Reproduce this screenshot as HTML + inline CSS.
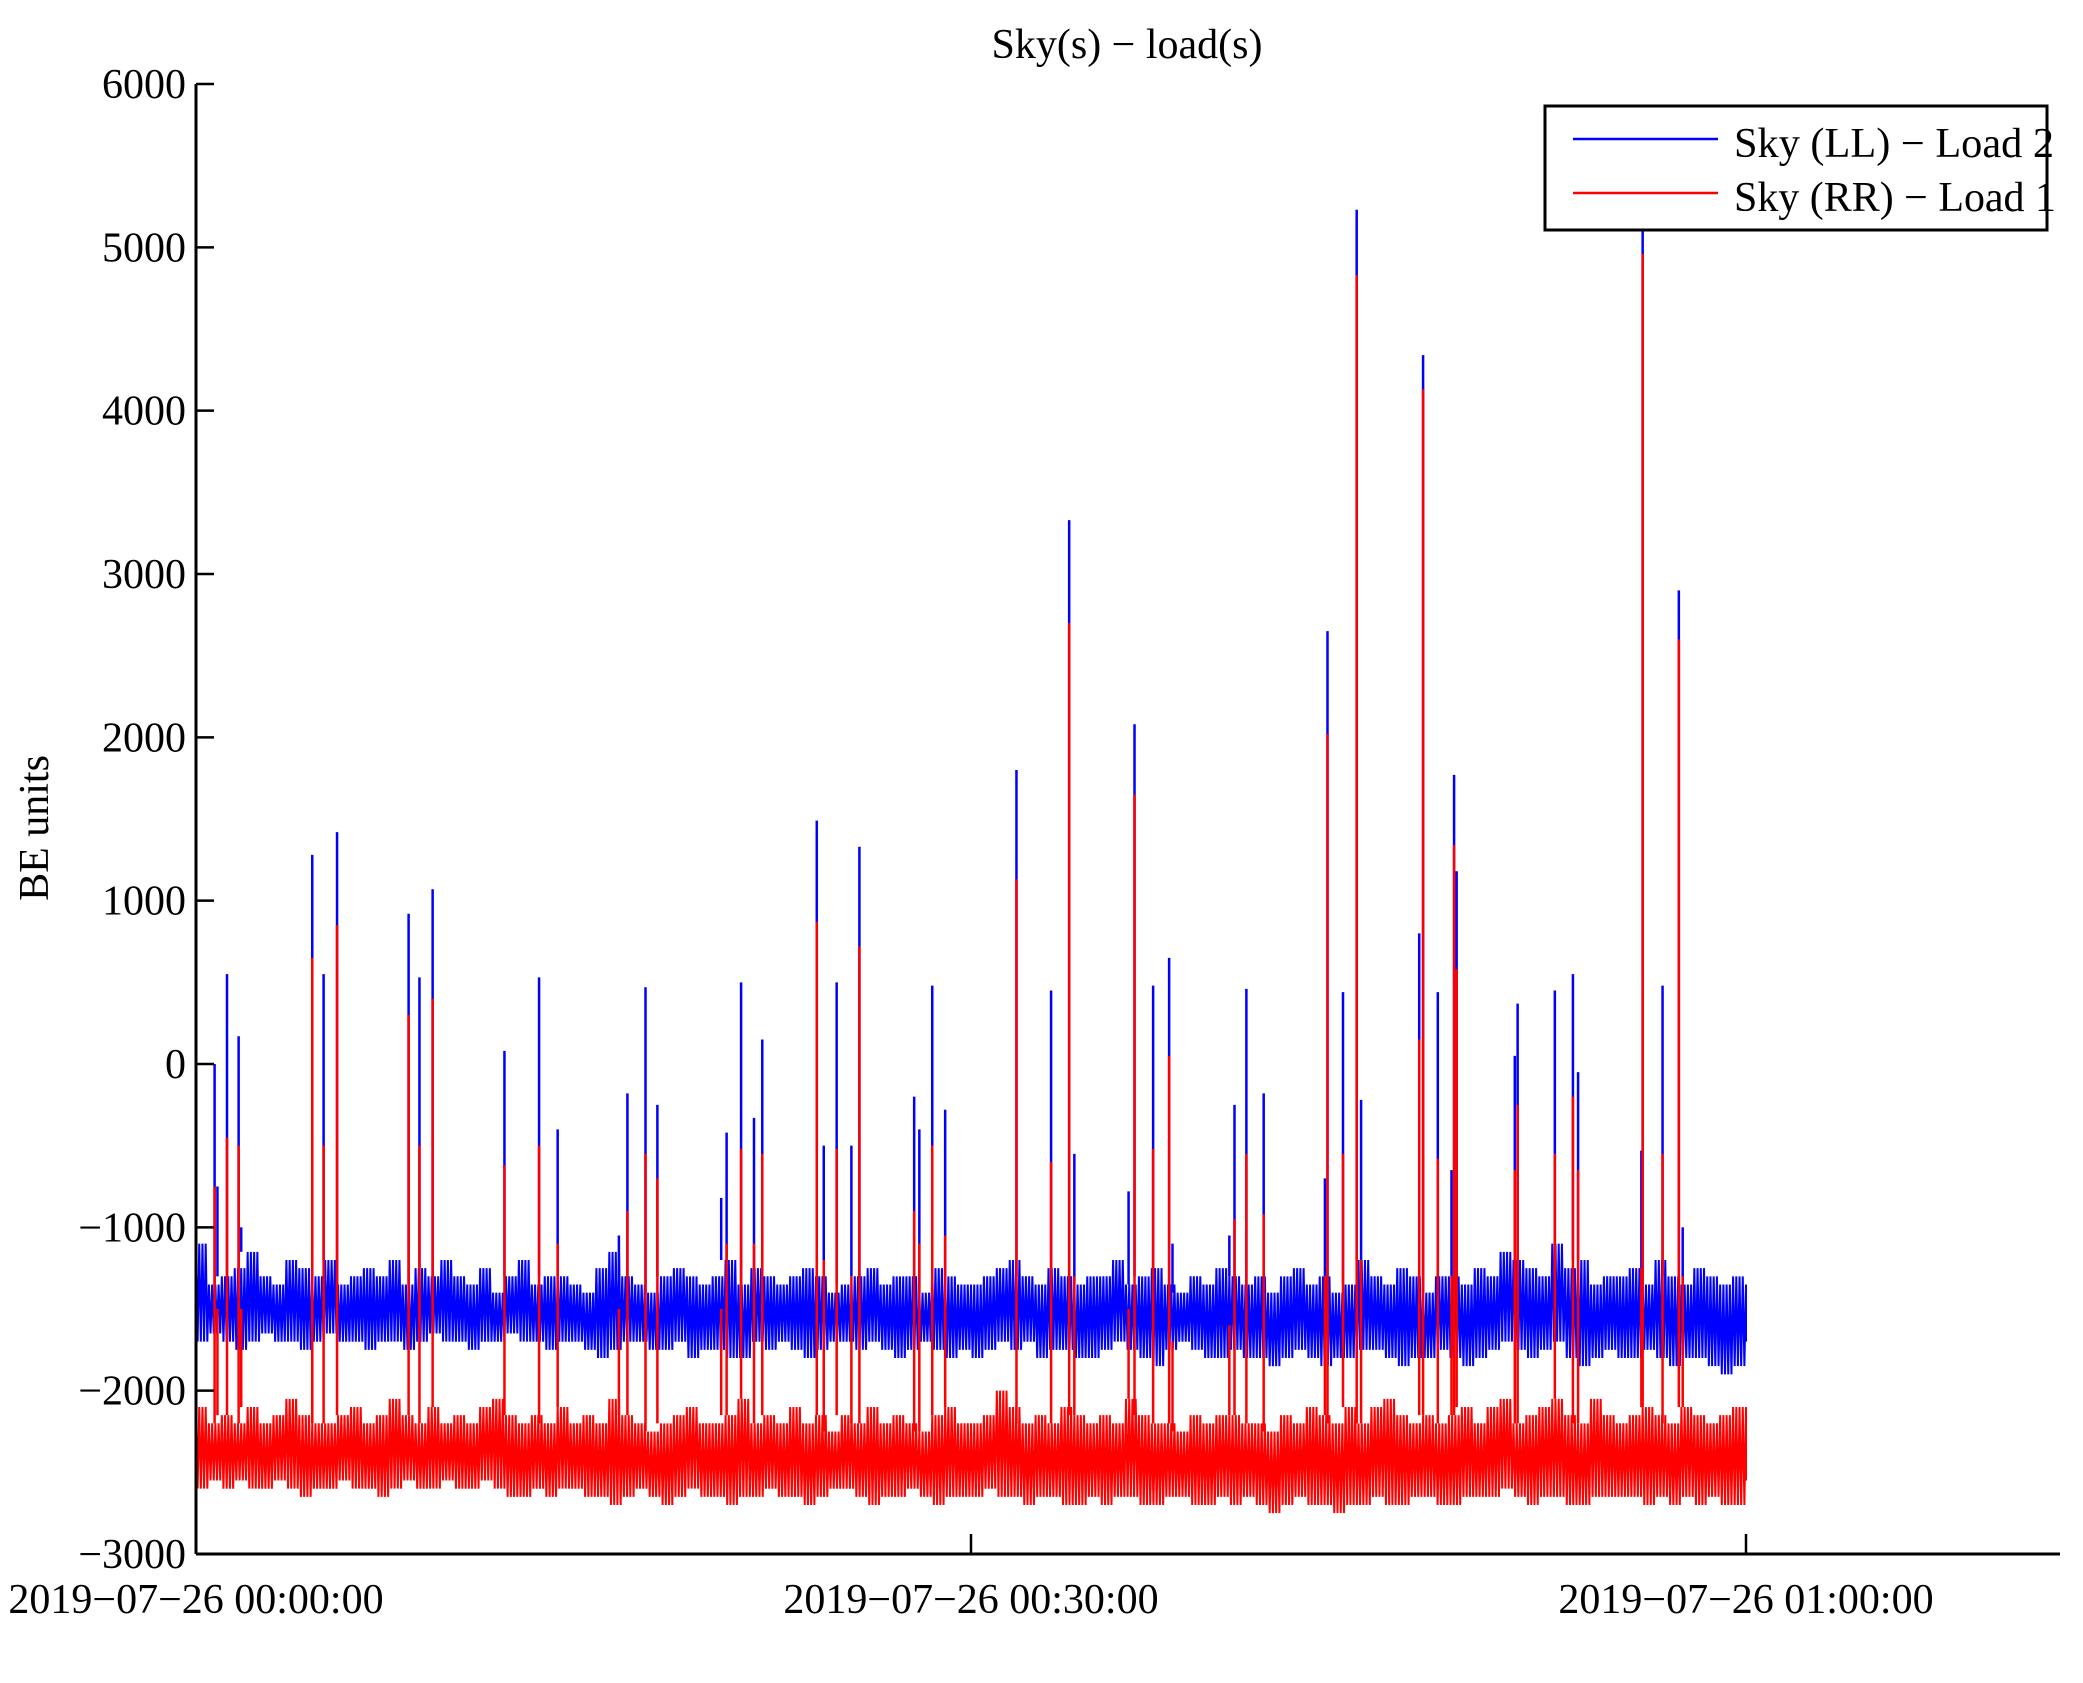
<!DOCTYPE html>
<html><head><meta charset="utf-8">
<style>
html,body{margin:0;padding:0;background:#fff;}
svg{display:block;font-family:"Liberation Serif","DejaVu Serif",serif;}
</style></head>
<body>
<svg id="chart" width="2083" height="1683" viewBox="0 0 2083 1683" xmlns="http://www.w3.org/2000/svg">
<rect x="0" y="0" width="2083" height="1683" fill="#fff"/>
<text x="1127" y="58" font-size="42" text-anchor="middle">Sky(s) − load(s)</text>
<text transform="translate(48,828) rotate(-90)" font-size="42" text-anchor="middle">BE units</text>
<g id="series"></g>
<g id="axes"></g>
<g>
<rect x="1545" y="106" width="502" height="124" fill="#fff" stroke="#000" stroke-width="3"/>
<line x1="1573" y1="139" x2="1718" y2="139" stroke="#00f" stroke-width="2.5"/>
<text x="1734" y="157" font-size="42" textLength="320" lengthAdjust="spacingAndGlyphs">Sky (LL) − Load 2</text>
<line x1="1573" y1="193" x2="1718" y2="193" stroke="#f00" stroke-width="2.5"/>
<text x="1734" y="211" font-size="42" textLength="322" lengthAdjust="spacingAndGlyphs">Sky (RR) − Load 1</text>
</g>
</svg>
<script>
const yTicks=[6000,5000,4000,3000,2000,1000,0,-1000,-2000,-3000];
const yTickLabels=["6000","5000","4000","3000","2000","1000","0","\u22121000","\u22122000","\u22123000"];
const xTicks=[0,30,60];
const xTickLabels=["2019\u221207\u221226 00:00:00","2019\u221207\u221226 00:30:00","2019\u221207\u221226 01:00:00"];
const blueHi=[-1100,-1350,-1300,-1250,-1150,-1300,-1350,-1200,-1250,-1300,
-1200,-1350,-1300,-1250,-1300,-1200,-1350,-1250,-1300,-1200,
-1300,-1350,-1250,-1400,-1300,-1200,-1350,-1300,-1300,-1350,
-1400,-1250,-1150,-1300,-1350,-1400,-1300,-1250,-1300,-1350,
-1300,-1200,-1350,-1250,-1300,-1350,-1300,-1250,-1300,-1400,
-1350,-1300,-1250,-1350,-1300,-1300,-1400,-1250,-1300,-1350,
-1350,-1300,-1250,-1200,-1300,-1350,-1250,-1300,-1350,-1300,
-1300,-1200,-1350,-1300,-1250,-1350,-1400,-1300,-1350,-1250,
-1300,-1350,-1300,-1400,-1300,-1250,-1350,-1300,-1400,-1350,
-1200,-1300,-1350,-1250,-1300,-1400,-1300,-1300,-1350,-1250,
-1300,-1150,-1200,-1250,-1300,-1100,-1250,-1200,-1350,-1300,
-1300,-1250,-1350,-1200,-1300,-1350,-1250,-1300,-1350,-1300,-1350];
const blueLo=[-1700,-1650,-1700,-1750,-1700,-1650,-1700,-1700,-1750,-1700,
-1650,-1700,-1700,-1750,-1700,-1700,-1750,-1700,-1650,-1700,
-1700,-1750,-1700,-1700,-1650,-1700,-1700,-1750,-1700,-1700,
-1750,-1800,-1750,-1700,-1700,-1750,-1750,-1700,-1800,-1750,
-1750,-1800,-1800,-1700,-1750,-1700,-1750,-1800,-1750,-1700,
-1700,-1750,-1700,-1750,-1800,-1750,-1700,-1750,-1800,-1750,
-1800,-1750,-1700,-1750,-1700,-1800,-1750,-1750,-1800,-1800,
-1750,-1700,-1750,-1800,-1850,-1750,-1700,-1750,-1800,-1800,
-1750,-1800,-1800,-1850,-1800,-1750,-1800,-1850,-1800,-1800,
-1750,-1750,-1800,-1850,-1800,-1800,-1750,-1800,-1850,-1800,
-1750,-1700,-1750,-1800,-1750,-1700,-1800,-1850,-1800,-1750,
-1800,-1800,-1750,-1800,-1850,-1800,-1800,-1850,-1900,-1850,-1700];
const redHi=[-2100,-2200,-2150,-2200,-2100,-2200,-2150,-2050,-2150,-2200,
-2200,-2150,-2100,-2200,-2150,-2050,-2150,-2200,-2100,-2200,
-2150,-2200,-2100,-2050,-2150,-2200,-2150,-2200,-2100,-2200,
-2150,-2200,-2050,-2150,-2200,-2250,-2200,-2150,-2100,-2200,
-2200,-2150,-2050,-2200,-2150,-2200,-2100,-2200,-2150,-2250,
-2150,-2200,-2100,-2200,-2150,-2200,-2250,-2150,-2100,-2200,
-2200,-2150,-2000,-2100,-2200,-2150,-2200,-2100,-2150,-2200,
-2150,-2200,-2050,-2150,-2200,-2200,-2250,-2150,-2200,-2150,
-2150,-2200,-2200,-2250,-2150,-2200,-2100,-2150,-2200,-2100,
-2200,-2100,-2050,-2150,-2200,-2150,-2200,-2150,-2100,-2200,
-2100,-2050,-2200,-2150,-2100,-2050,-2150,-2200,-2050,-2150,
-2200,-2150,-2100,-2150,-2200,-2100,-2150,-2200,-2150,-2100,-2100];
const redLo=[-2600,-2550,-2600,-2550,-2600,-2600,-2550,-2600,-2650,-2600,
-2600,-2550,-2600,-2600,-2650,-2600,-2550,-2600,-2600,-2550,
-2600,-2600,-2550,-2600,-2650,-2650,-2600,-2650,-2600,-2600,
-2650,-2650,-2700,-2650,-2600,-2650,-2700,-2650,-2600,-2650,
-2650,-2700,-2650,-2650,-2600,-2650,-2650,-2700,-2650,-2600,
-2600,-2650,-2700,-2650,-2650,-2600,-2650,-2700,-2650,-2650,
-2650,-2600,-2650,-2650,-2700,-2650,-2650,-2700,-2700,-2650,
-2700,-2650,-2650,-2700,-2700,-2650,-2650,-2700,-2700,-2650,
-2700,-2650,-2700,-2750,-2700,-2650,-2700,-2700,-2750,-2700,
-2700,-2650,-2700,-2700,-2650,-2650,-2700,-2700,-2650,-2650,
-2650,-2600,-2650,-2700,-2650,-2650,-2700,-2700,-2650,-2650,
-2650,-2650,-2700,-2650,-2700,-2650,-2700,-2650,-2700,-2700,-2550];
const spikeTimes=[0.72,0.83,1.2,1.65,1.75,4.5,4.94,5.46,8.23,8.65,9.16,11.94,13.28,14.0,16.37,16.7,17.4,17.86,20.33,20.54,21.1,21.6,21.92,24.03,24.3,24.8,25.37,25.68,27.8,28.0,28.5,29.0,31.76,33.1,33.8,34.0,36.1,36.33,37.05,37.67,37.8,40.0,40.2,40.66,41.33,43.7,43.8,44.4,44.93,45.1,47.35,47.5,48.07,48.6,48.7,48.8,51.05,51.16,52.6,53.3,53.5,55.95,56.0,56.77,57.4,57.55];
const spikeLL=[0,-750,550,170,-1000,1280,550,1420,920,530,1070,80,530,-400,-1050,-180,470,-250,-820,-420,500,-330,150,1490,-500,500,-500,1330,-200,-400,480,-280,1800,450,3330,-550,-780,2080,480,650,-1100,-1050,-250,460,-180,-700,2650,440,5230,-220,800,4340,440,-650,1770,1180,50,370,450,550,-50,-530,5120,480,2900,-1000];
const spikeRR=[-750,-1500,-450,-500,-1500,650,-500,850,300,-500,400,-620,-500,-1100,-1500,-900,-550,-700,-1500,-1100,-520,-1100,-550,870,-1200,-520,-1300,720,-900,-1100,-500,-1050,1130,-600,2700,-1300,-1500,1650,-520,50,-1700,-1600,-950,-550,-920,-1300,2020,-550,4830,-1200,150,4130,-580,-1300,1340,580,-650,-250,-550,-200,-650,-1250,4960,-550,2600,-1300];

const X0=196,X1=1746,Y0=84,YB=1554;
function xs(t){return X0+(t/60)*(X1-X0);}
function ys(v){return Y0+(6000-v)/9000*(YB-Y0);}
const NS="http://www.w3.org/2000/svg";
const series=document.getElementById('series');
const axes=document.getElementById('axes');

function band(hi,lo,color,name){
  const n=hi.length, step=60/(n-1);
  const K=8;
  let pts=[];
  for(let i=0;i<n;i++){
    const t=i*step;
    const dx=(xs(step)-xs(0))/K;
    const x=xs(t);
    if(i===n-1){pts.push(x+','+ys(hi[i]));pts.push(x+','+ys(lo[i]));break;}
    for(let k=0;k<K;k++){
      pts.push((x+k*dx)+','+ys(k%2===0?hi[i]:lo[i]));
    }
  }
  const pl=document.createElementNS(NS,'polyline');
  pl.setAttribute('points',pts.join(' '));
  pl.setAttribute('fill','none');
  pl.setAttribute('stroke',color);
  pl.setAttribute('stroke-width','2');
  
  
  series.appendChild(pl);
}
function spikes(vals,hi,color,name){
  const n=hi.length, step=60/(n-1);
  for(let i=0;i<spikeTimes.length;i++){
    const t=spikeTimes[i];
    const base=hi[Math.min(n-1,Math.round(t/step))];
    const ln=document.createElementNS(NS,'line');
    ln.setAttribute('x1',xs(t));ln.setAttribute('x2',xs(t));
    ln.setAttribute('y1',ys(base));ln.setAttribute('y2',ys(vals[i]));
    ln.setAttribute('stroke',color);ln.setAttribute('stroke-width','2.5');
    
    
    series.appendChild(ln);
  }
}
band(blueHi,blueLo,'#00f','series-ll-band');
spikes(spikeLL,blueHi,'#00f','spike-ll');
band(redHi,redLo,'#f00','series-rr-band');
spikes(spikeRR,redHi,'#f00','spike-rr');

function mk(tag,attrs){const e=document.createElementNS(NS,tag);for(const k in attrs)e.setAttribute(k,attrs[k]);return e;}
const yAxis=mk('line',{x1:X0,y1:Y0,x2:X0,y2:YB,stroke:'#000','stroke-width':3});


axes.appendChild(yAxis);
const xAxis=mk('line',{x1:X0,y1:YB,x2:2060,y2:YB,stroke:'#000','stroke-width':3});


axes.appendChild(xAxis);
yTicks.forEach((v,i)=>{
  const tk=mk('line',{x1:X0,y1:ys(v),x2:X0+18,y2:ys(v),stroke:'#000','stroke-width':2.5});
  
  
  axes.appendChild(tk);
  const tx=mk('text',{x:186,y:ys(v)+14,'font-size':42,'text-anchor':'end'});
  tx.textContent=yTickLabels[i];
  
  
  axes.appendChild(tx);
});
xTicks.forEach((t,i)=>{
  const tk=mk('line',{x1:xs(t),y1:YB,x2:xs(t),y2:YB-20,stroke:'#000','stroke-width':2.5});
  
  
  axes.appendChild(tk);
  const tx=mk('text',{x:xs(t),y:1613,'font-size':42,'text-anchor':'middle'});
  tx.textContent=xTickLabels[i];
  
  
  axes.appendChild(tx);
});
</script>
</body></html>
